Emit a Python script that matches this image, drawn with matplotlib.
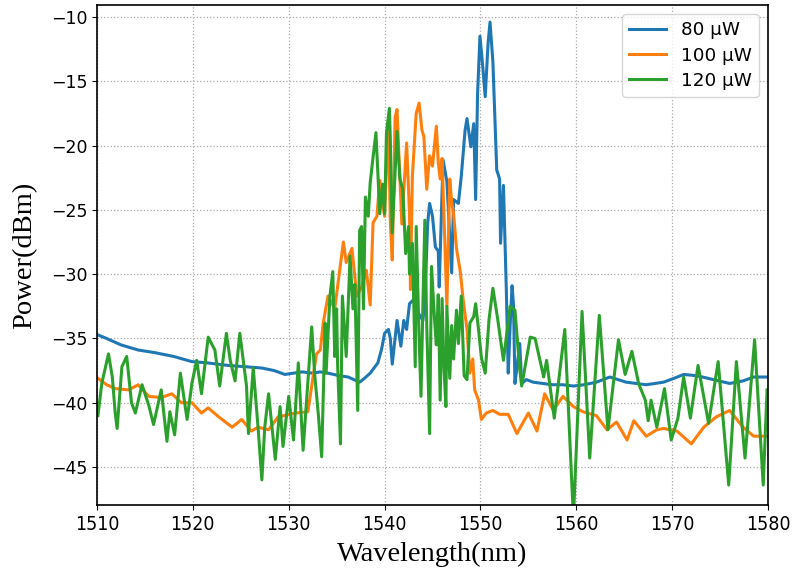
import numpy as np
import matplotlib
matplotlib.use('Agg')
import matplotlib.pyplot as plt

# spectra, wavelength in nm, power in dBm
wl_80 = [1510.0, 1511.0, 1512.5, 1514.3, 1516.0, 1518.0, 1519.9, 1521.5, 1523.7, 1525.5,
         1527.2, 1528.5, 1529.6, 1530.5, 1531.4, 1532.5, 1533.3, 1534.1, 1535.3, 1536.2,
         1537.4, 1537.9, 1538.5, 1539.0, 1539.3, 1539.7, 1540.0, 1540.4, 1540.6, 1540.8,
         1541.3, 1541.7, 1542.0, 1542.3, 1542.6, 1543.0, 1543.5, 1544.0, 1544.2, 1544.5,
         1544.7, 1545.0, 1545.3, 1545.6, 1545.7, 1546.1, 1546.5, 1547.0, 1547.2, 1547.7,
         1548.0, 1548.4, 1548.6, 1549.0, 1549.3, 1549.5, 1549.7, 1549.95, 1550.2, 1550.5,
         1550.8, 1551.0, 1551.3, 1551.7, 1552.0, 1552.1, 1552.4, 1552.7, 1552.9, 1553.1,
         1553.3, 1553.45, 1553.6, 1553.85, 1554.1, 1554.3, 1554.8, 1555.5, 1556.5, 1557.5,
         1558.6, 1559.7, 1560.8, 1562.1, 1563.5, 1565.2, 1567.3, 1569.1, 1570.2, 1571.2,
         1572.6, 1574.3, 1576.0, 1577.4, 1578.5, 1580.0]
p_80 = [-34.7, -35.0, -35.5, -35.9, -36.1, -36.4, -36.8, -36.9, -37.1, -37.2,
        -37.3, -37.5, -37.8, -37.7, -37.6, -37.7, -37.6, -37.7, -37.9, -38.0,
        -38.4, -38.1, -37.7, -37.2, -36.9, -35.8, -34.6, -34.3, -35.0, -37.0,
        -33.6, -35.6, -33.6, -34.3, -32.3, -32.0, -33.0, -33.6, -32.0, -26.0,
        -24.5, -25.5, -27.9, -28.2, -31.0, -21.1, -22.8, -29.9, -24.2, -24.5,
        -22.4, -18.8, -17.9, -20.1, -18.3, -24.2, -16.0, -11.5, -13.5, -16.2,
        -12.0, -10.4, -13.5, -21.9, -22.6, -27.6, -23.1, -31.2, -37.7, -34.0,
        -30.9, -32.4, -38.5, -37.0, -35.4, -38.5, -38.2, -38.4, -38.5, -38.6,
        -38.6, -38.7, -38.6, -38.4, -38.0, -38.4, -38.6, -38.4, -38.1, -37.8,
        -37.9, -38.2, -38.5, -38.3, -38.0, -38.0]

wl_100 = [1510.1, 1511.0, 1511.9, 1513.3, 1514.3, 1515.4, 1516.7, 1517.8, 1518.8, 1519.9,
          1520.9, 1521.6, 1522.7, 1524.1, 1525.1, 1526.1, 1526.8, 1527.9, 1528.9, 1530.7,
          1532.0, 1532.6, 1532.9, 1533.3, 1533.6, 1534.1, 1534.8, 1535.7, 1536.0, 1536.6,
          1537.1, 1537.6, 1538.1, 1538.5, 1538.8, 1539.2, 1539.5, 1540.0, 1540.4, 1540.6,
          1540.8, 1541.1, 1541.3, 1541.5, 1541.8, 1542.3, 1542.6, 1542.7, 1542.9, 1543.3,
          1543.6, 1543.9, 1544.1, 1544.4, 1544.7, 1545.0, 1545.4, 1545.6, 1545.8, 1546.0,
          1546.3, 1546.5, 1546.8, 1547.0, 1547.2, 1547.5, 1547.9, 1548.2, 1548.6, 1548.9,
          1549.2, 1549.4, 1549.8, 1550.1, 1550.6, 1551.3, 1552.0, 1552.9, 1553.8, 1555.0,
          1555.9, 1556.7, 1557.6, 1558.6, 1559.7, 1560.7, 1562.1, 1563.2, 1564.2, 1565.3,
          1566.0, 1567.3, 1568.4, 1569.1, 1570.5, 1572.0, 1573.3, 1574.6, 1576.0, 1577.4,
          1578.5, 1580.0]
p_100 = [-38.1, -38.6, -38.9, -39.0, -38.6, -39.5, -39.6, -39.3, -40.0, -40.0,
         -40.8, -40.4, -41.1, -41.9, -41.3, -42.2, -41.9, -42.1, -41.1, -40.8,
         -40.7, -37.7, -36.2, -35.9, -33.8, -31.7, -32.7, -27.5, -29.1, -28.0,
         -31.7, -31.0, -29.7, -32.4, -26.0, -25.5, -22.7, -25.5, -18.0, -25.9,
         -28.9, -17.8, -17.2, -20.8, -26.1, -19.8, -25.3, -31.2, -22.4, -17.5,
         -16.7, -18.8, -19.3, -23.4, -20.8, -21.6, -18.5, -21.3, -22.6, -21.0,
         -27.9, -32.5, -22.6, -24.4, -25.3, -28.0, -29.8, -32.0, -34.3, -37.7,
         -36.6, -39.0, -39.8, -41.3, -40.8, -40.6, -40.9, -40.9, -42.4, -40.8,
         -42.2, -39.3, -40.6, -39.5, -40.3, -40.7, -41.0, -42.1, -41.5, -42.9,
         -41.4, -42.6, -42.1, -42.0, -42.2, -43.2, -41.9, -41.1, -40.6, -41.9,
         -42.6, -42.6]

wl_120 = [1510.1, 1510.5, 1511.2, 1511.6, 1511.9, 1512.1, 1512.6, 1513.1, 1513.6, 1514.0,
          1514.7, 1515.4, 1515.9, 1516.7, 1517.3, 1517.6, 1518.1, 1518.7, 1519.4, 1519.9,
          1520.4, 1520.9, 1521.6, 1522.3, 1522.8, 1523.5, 1523.9, 1524.4, 1524.9, 1525.6,
          1525.8, 1526.3, 1526.8, 1527.2, 1527.5, 1527.9, 1528.6, 1529.1, 1529.4, 1530.0,
          1530.5, 1531.0, 1531.5, 1532.0, 1532.4, 1532.7, 1533.1, 1533.44, 1533.8, 1533.9,
          1534.3, 1534.6, 1534.8, 1535.0, 1535.1, 1535.4, 1535.6, 1536.0, 1536.4, 1536.7,
          1536.9, 1537.2, 1537.4, 1537.6, 1537.8, 1538.0, 1538.3, 1538.5, 1538.8, 1539.1,
          1539.3, 1539.5, 1539.8, 1540.0, 1540.2, 1540.5, 1540.6, 1540.8, 1541.3, 1541.6,
          1541.9, 1542.0, 1542.2, 1542.5, 1542.6, 1542.9, 1543.2, 1543.3, 1543.6, 1543.8,
          1544.0, 1544.2, 1544.4, 1544.7, 1544.9, 1545.2, 1545.4, 1545.6, 1545.8, 1546.0,
          1546.2, 1546.4, 1546.5, 1546.8, 1547.0, 1547.2, 1547.5, 1547.7, 1548.0, 1548.3,
          1548.6, 1548.9, 1549.3, 1549.5, 1549.8, 1550.1, 1550.5, 1550.9, 1551.3, 1551.8,
          1552.4, 1553.1, 1553.6, 1554.1, 1554.3, 1555.2, 1555.7, 1556.6, 1556.9, 1557.7,
          1558.8, 1559.7, 1560.6, 1561.4, 1562.4, 1563.3, 1564.4, 1565.1, 1565.8, 1566.5,
          1567.2, 1567.5, 1567.8, 1568.4, 1569.2, 1569.9, 1570.6, 1571.2, 1571.9, 1572.7,
          1573.8, 1574.8, 1575.9, 1576.7, 1577.6, 1578.6, 1579.5, 1579.9]
p_120 = [-41.0, -38.5, -36.2, -38.0, -40.8, -42.0, -37.2, -36.4, -40.0, -40.8,
         -38.6, -40.2, -41.7, -39.0, -43.0, -40.7, -42.5, -37.7, -41.3, -38.5,
         -36.7, -39.3, -34.9, -35.9, -38.7, -34.6, -36.7, -38.3, -34.6, -38.7,
         -42.4, -37.3, -41.9, -46.0, -41.9, -39.3, -44.4, -40.3, -43.4, -39.5,
         -42.9, -36.9, -43.7, -38.3, -34.1, -37.7, -41.0, -44.2, -33.8, -37.7,
         -31.7, -29.8, -36.4, -32.7, -37.0, -43.2, -31.7, -36.4, -28.6, -32.7,
         -30.8, -40.6, -26.6, -26.3, -32.7, -24.0, -25.5, -22.9, -20.9, -19.0,
         -22.2, -25.3, -23.0, -25.3, -19.0, -17.1, -19.5, -26.8, -18.9, -22.6,
         -23.4, -25.1, -28.4, -26.3, -30.0, -27.6, -37.2, -26.3, -34.9, -39.5,
         -32.3, -25.8, -34.0, -42.4, -29.4, -33.4, -35.5, -31.6, -39.8, -31.9,
         -37.4, -40.3, -32.5, -38.1, -34.0, -36.6, -32.8, -35.4, -31.7, -37.9,
         -38.2, -33.8, -33.3, -32.3, -34.3, -36.5, -37.7, -33.5, -31.1, -33.5,
         -36.7, -32.5, -32.8, -37.4, -38.7, -34.9, -35.0, -38.0, -36.7, -41.2,
         -34.3, -49.0, -32.9, -44.3, -33.2, -42.1, -35.1, -37.8, -36.0, -38.5,
         -39.8, -41.4, -39.8, -41.9, -38.9, -42.9, -41.2, -38.0, -41.2, -37.1,
         -41.6, -36.8, -46.4, -36.8, -44.3, -35.1, -46.4, -39.0]

labels = ['80 μW', '100 μW', '120 μW']

fig, ax = plt.subplots(figsize=(7.93, 5.73), dpi=100)
fig.subplots_adjust(left=0.1223, right=0.9685, top=0.9913, bottom=0.1187)

ax.plot(wl_80, p_80, color='#1f77b4', lw=2.2, label=labels[0])
ax.plot(wl_100, p_100, color='#ff7f0e', lw=2.2, label=labels[1])
ax.plot(wl_120, p_120, color='#2ca02c', lw=2.2, label=labels[2])

ax.set_xlim(1510, 1580)
ax.set_ylim(-47.95, -9.07)
ax.set_xticks(np.arange(1510, 1581, 10))
ax.set_yticks(np.arange(-45, -9, 5))
ax.grid(True, linestyle=':', color='#aaaaaa', lw=0.9)

for lab in ax.get_xticklabels():
    lab.set_fontsize(14)
    lab.set_fontstretch('condensed')
for lab in ax.get_yticklabels():
    lab.set_fontsize(12.5)
for sp in ax.spines.values():
    sp.set_linewidth(1.2)

ax.set_xlabel('Wavelength(nm)', fontsize=20.5, family='Liberation Serif', labelpad=6)
ax.set_ylabel('Power(dBm)', fontsize=20.5, family='Liberation Serif', labelpad=10)
ax.legend(loc='upper right', fontsize=13.2, labelspacing=0.39, borderaxespad=0.5)

fig.savefig('out.png', dpi=100)
